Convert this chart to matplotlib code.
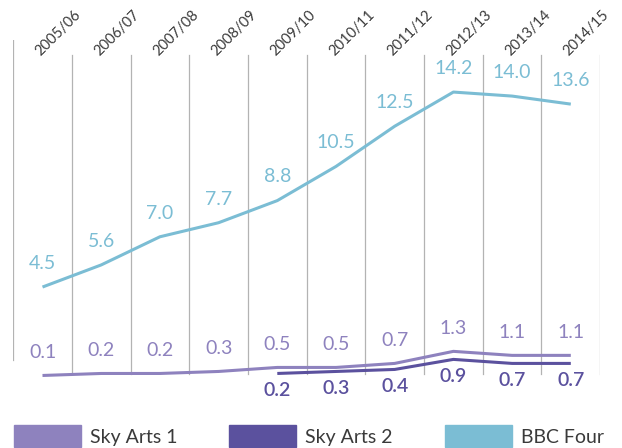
import matplotlib.pyplot as plt
import matplotlib.transforms as mtransforms
from matplotlib.patches import Rectangle

years = ['2005/06', '2006/07', '2007/08', '2008/09', '2009/10',
         '2010/11', '2011/12', '2012/13', '2013/14', '2014/15']
bbc_four = [4.5, 5.6, 7.0, 7.7, 8.8, 10.5, 12.5, 14.2, 14.0, 13.6]
sky_arts1 = [0.1, 0.2, 0.2, 0.3, 0.5, 0.5, 0.7, 1.3, 1.1, 1.1]
sky_arts2_years = years[4:]
sky_arts2 = [0.2, 0.3, 0.4, 0.9, 0.7, 0.7]

c_sky1 = '#8e82be'
c_sky2 = '#5b519e'
c_bbc = '#7bbdd4'
c_grid = '#b3b3b3'
c_text = '#3a3a3a'

plt.rcParams['font.family'] = ['Lato', 'DejaVu Sans']

fig = plt.figure(figsize=(6.22, 4.48), dpi=100)
ax = fig.add_axes([13.15 / 622, 48 / 448, 587 / 622, 360 / 448])
ax.set_xlim(-0.5, len(years) - 0.5)
ax.set_ylim(-1.12, 16.79)
ax.axis('off')

# vertical separators
for i in range(len(years) + 1):
    if i == 0:
        ax.axvline(i - 0.5, ymin=0.111, ymax=1.0, color=c_grid, lw=0.9)
    else:
        ax.axvline(i - 0.5, ymin=0.072, ymax=0.958, color=c_grid, lw=0.9)

x_all = list(range(len(years)))
x_sky2 = [years.index(y) for y in sky_arts2_years]

ax.plot(x_all, bbc_four, color=c_bbc, lw=2.2, solid_capstyle='butt')
ax.plot(x_all, sky_arts1, color=c_sky1, lw=2.2, solid_capstyle='butt')
ax.plot(x_sky2, sky_arts2, color=c_sky2, lw=2.2, solid_capstyle='butt')

for x, v in zip(x_all, bbc_four):
    ax.annotate(f'{v:.1f}', (x, v), xytext=(0, 17), textcoords='offset points',
                ha='center', va='center', fontsize=14, color=c_bbc)
for x, v in zip(x_all, sky_arts1):
    ax.annotate(f'{v:.1f}', (x, v), xytext=(0, 16.5), textcoords='offset points',
                ha='center', va='center', fontsize=14, color=c_sky1)
for x, v in zip(x_sky2, sky_arts2):
    ax.annotate(f'{v:.1f}', (x, v), xytext=(0, -12), textcoords='offset points',
                ha='center', va='center', fontsize=14, color=c_sky2,
                fontweight='semibold')

# rotated year labels
trans = mtransforms.blended_transform_factory(ax.transData, ax.transAxes)
for i, y in enumerate(years):
    ax.text(i - 0.03, 0.955, y, transform=trans, rotation=45,
            rotation_mode='anchor', ha='left', va='baseline',
            fontsize=10.5, color=c_text, clip_on=False)

# legend
legend_items = [('Sky Arts 1', c_sky1, 14), ('Sky Arts 2', c_sky2, 229),
                ('BBC Four', c_bbc, 445)]
for label, col, px in legend_items:
    fig.patches.append(Rectangle((px / 622, 1 / 448), 67 / 622, 22 / 448,
                                 transform=fig.transFigure, color=col))
    fig.text((px + 76) / 622, 11 / 448, label, ha='left', va='center',
             fontsize=14, color=c_text)

fig.savefig('out.png', dpi=100)
